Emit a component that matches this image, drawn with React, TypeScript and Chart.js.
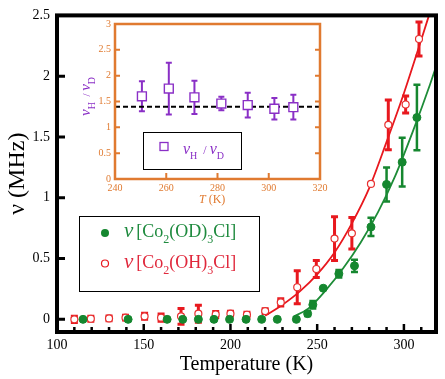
import React, { useEffect, useRef } from "react";
import { Chart, registerables } from "chart.js";

Chart.register(...registerables);

const FONT = "'Liberation Serif', 'Times New Roman', serif";

// ---- main chart data ----
const odT = [115, 141, 163.5, 172.5, 181.5, 190.5, 199.5, 209, 218, 227, 238, 244.5, 247.5, 253.5, 262.5, 271.5, 281, 290, 299, 307.5];
const odV = [0, 0, 0, 0, 0, 0, 0, 0, 0, 0, 0, 0.047, 0.12, 0.256, 0.375, 0.44, 0.76, 1.11, 1.293, 1.66];
const odErr = [0, 0, 0, 0, 0, 0, 0, 0, 0, 0, 0, 0.02, 0.03, 0, 0.03, 0.05, 0.075, 0.14, 0.2, 0.27];

const ohT = [110, 119.5, 130, 139.5, 150.5, 160, 171.5, 181.5, 191.5, 200, 209.5, 220, 229, 238.5, 249.5, 260, 270, 281, 291, 301, 308.7];
const ohV = [0.0, 0.005, 0.008, 0.014, 0.025, 0.014, 0.025, 0.047, 0.04, 0.047, 0.038, 0.068, 0.14, 0.264, 0.414, 0.664, 0.708, 1.114, 1.6, 1.767, 2.306];
const ohErr = [0.025, 0.02, 0.02, 0.02, 0.025, 0.03, 0.065, 0.07, 0.025, 0.02, 0.02, 0.02, 0.03, 0.135, 0.07, 0.18, 0.13, 0, 0.205, 0.07, 0.14];

const odFitT = [236, 245, 255, 265, 275, 285, 295, 305, 315, 319];
const odFitV = [0.02, 0.09, 0.24, 0.42, 0.63, 0.88, 1.18, 1.54, 1.93, 2.1];
const ohFitT = [220, 230, 240, 250, 260, 270, 280, 290, 300, 310, 316];
const ohFitV = [0.03, 0.12, 0.23, 0.37, 0.55, 0.79, 1.08, 1.46, 1.86, 2.3, 2.57];

const mainXTicks = [100, 150, 200, 250, 300];
const mainXMinor = [110, 120, 130, 140, 160, 170, 180, 190, 210, 220, 230, 240, 260, 270, 280, 290, 310];
const mainYTicks = [0, 0.5, 1, 1.5, 2, 2.5];

// ---- inset data ----
const ratioT = [250.5, 261, 271, 281.5, 291.8, 302.2, 309.6];
const ratioV = [1.6, 1.75, 1.58, 1.46, 1.43, 1.36, 1.39];
const ratioErr = [0.29, 0.5, 0.32, 0.13, 0.24, 0.21, 0.24];
const ratioRef = 1.4;
const insetXTicks = [240, 260, 280, 300, 320];
const insetYTicks = [0, 0.5, 1, 1.5, 2, 2.5, 3];

const GREEN = "#15872F";
const RED = "#E8181E";
const PURPLE = "#8A2FC6";
const ORANGE = "#E07A30";

type Seg = { t: string; size: number; dy?: number; dx?: number; italic?: boolean };

function drawRich(ctx: CanvasRenderingContext2D, x: number, y: number, segs: Seg[], color: string) {
  let cx = x;
  ctx.fillStyle = color;
  ctx.textBaseline = "alphabetic";
  ctx.textAlign = "left";
  for (const s of segs) {
    ctx.font = `${s.italic ? "italic " : ""}${s.size}px ${FONT}`;
    cx += s.dx || 0;
    ctx.fillText(s.t, cx, y + (s.dy || 0));
    cx += ctx.measureText(s.t).width;
  }
  return cx;
}

const errorBarPlugin = {
  id: "errorBars",
  beforeDatasetsDraw(chart: any) {
    const ctx = chart.ctx;
    const xs = chart.scales.x;
    const ys = chart.scales.y;
    chart.data.datasets.forEach((ds: any) => {
      const errs = ds.errors;
      if (!errs) return;
      ctx.save();
      ctx.strokeStyle = ds.errorColor;
      ctx.lineWidth = ds.errorWidth;
      ds.data.forEach((p: any, j: number) => {
        const e = errs[j];
        if (!e) return;
        const px = xs.getPixelForValue(p.x);
        const y1 = ys.getPixelForValue(p.y + e);
        const y2 = ys.getPixelForValue(p.y - e);
        const c = ds.capHalf;
        ctx.beginPath();
        ctx.moveTo(px, y1);
        ctx.lineTo(px, y2);
        ctx.moveTo(px - c, y1);
        ctx.lineTo(px + c, y1);
        ctx.moveTo(px - c, y2);
        ctx.lineTo(px + c, y2);
        ctx.stroke();
      });
      ctx.restore();
    });
  },
};

const mainDecor = {
  id: "mainDecor",
  afterDraw(chart: any) {
    const ctx = chart.ctx as CanvasRenderingContext2D;
    const { left, right, top, bottom } = chart.chartArea;
    const xs = chart.scales.x;
    const ys = chart.scales.y;
    ctx.save();
    // ticks
    ctx.strokeStyle = "#000";
    ctx.lineWidth = 3;
    ctx.beginPath();
    mainYTicks.forEach((v) => {
      if (v === 2.5) return;
      const py = ys.getPixelForValue(v);
      ctx.moveTo(left, py);
      ctx.lineTo(left + 8, py);
    });
    ctx.stroke();
    ctx.lineWidth = 2.5;
    ctx.beginPath();
    mainXTicks.forEach((v) => {
      const px = xs.getPixelForValue(v);
      ctx.moveTo(px, bottom);
      ctx.lineTo(px, bottom - 8);
    });
    mainXMinor.forEach((v) => {
      const px = xs.getPixelForValue(v);
      ctx.moveTo(px, bottom);
      ctx.lineTo(px, bottom - 5);
    });
    ctx.stroke();
    // frame
    ctx.lineWidth = 4;
    ctx.strokeRect(left, top, right - left, bottom - top);

    // legend
    ctx.lineWidth = 1;
    ctx.strokeStyle = "#000";
    ctx.strokeRect(79.5, 216.5, 180, 75);
    ctx.fillStyle = GREEN;
    ctx.beginPath();
    ctx.arc(105, 233, 4, 0, Math.PI * 2);
    ctx.fill();
    ctx.strokeStyle = RED;
    ctx.fillStyle = "#fff";
    ctx.lineWidth = 1.2;
    ctx.beginPath();
    ctx.arc(105, 263.5, 3.5, 0, Math.PI * 2);
    ctx.fill();
    ctx.stroke();
    drawRich(ctx, 124, 237, [
      { t: "ν", size: 21, italic: true },
      { t: "[Co", size: 18, dx: 3 },
      { t: "2", size: 12, dy: 6 },
      { t: "(OD)", size: 18 },
      { t: "3", size: 12, dy: 6 },
      { t: "Cl]", size: 18 },
    ], "#1E8A3E");
    drawRich(ctx, 124, 268, [
      { t: "ν", size: 21, italic: true },
      { t: "[Co", size: 18, dx: 3 },
      { t: "2", size: 12, dy: 6 },
      { t: "(OH)", size: 18 },
      { t: "3", size: 12, dy: 6 },
      { t: "Cl]", size: 18 },
    ], "#E0283C");
    ctx.restore();
  },
};

const insetDecor = {
  id: "insetDecor",
  afterDraw(chart: any) {
    const ctx = chart.ctx as CanvasRenderingContext2D;
    const { left, right, top, bottom } = chart.chartArea;
    const xs = chart.scales.x;
    const ys = chart.scales.y;
    ctx.save();
    ctx.strokeStyle = ORANGE;
    ctx.lineWidth = 2;
    ctx.beginPath();
    insetYTicks.forEach((v) => {
      if (v === 0 || v === 3) return;
      const py = ys.getPixelForValue(v);
      ctx.moveTo(left, py);
      ctx.lineTo(left + 5, py);
      ctx.moveTo(right, py);
      ctx.lineTo(right - 5, py);
    });
    insetXTicks.forEach((v) => {
      if (v === 240 || v === 320) return;
      const px = xs.getPixelForValue(v);
      ctx.moveTo(px, bottom);
      ctx.lineTo(px, bottom - 6);
    });
    ctx.stroke();
    ctx.lineWidth = 2.5;
    ctx.strokeRect(left, top, right - left, bottom - top);

    // x title
    drawRich(ctx, 199, 203, [
      { t: "T", size: 12, italic: true },
      { t: " (K)", size: 12 },
    ], ORANGE);

    // y title (rotated)
    ctx.save();
    ctx.translate(90, 116);
    ctx.rotate(-Math.PI / 2);
    drawRich(ctx, 0, 0, [
      { t: "ν", size: 15, italic: true },
      { t: "H", size: 10, dy: 5 },
      { t: "  / ", size: 11 },
      { t: "ν", size: 15, italic: true },
      { t: "D", size: 10, dy: 5 },
    ], PURPLE);
    ctx.restore();

    // legend
    ctx.strokeStyle = "#000";
    ctx.lineWidth = 1;
    ctx.strokeRect(143.5, 132.5, 98, 37);
    ctx.strokeStyle = PURPLE;
    ctx.lineWidth = 1.3;
    ctx.strokeRect(160, 142.5, 8, 8);
    drawRich(ctx, 183, 153.5, [
      { t: "ν", size: 16, italic: true },
      { t: "H", size: 10, dy: 5 },
      { t: "  / ", size: 12 },
      { t: "ν", size: 16, italic: true },
      { t: "D", size: 10, dy: 5 },
    ], PURPLE);
    ctx.restore();
  },
};

export default function App() {
  const mainRef = useRef<HTMLCanvasElement>(null);
  const insetRef = useRef<HTMLCanvasElement>(null);

  useEffect(() => {
    const tickFont = { family: FONT, size: 14 };
    const main = new Chart(mainRef.current!, {
      type: "scatter",
      data: {
        datasets: [
          {
            label: "OD",
            data: odT.map((t, i) => ({ x: t, y: odV[i] })),
            pointRadius: 4,
            pointBackgroundColor: GREEN,
            pointBorderColor: GREEN,
            pointBorderWidth: 1,
            errors: odErr,
            errorColor: GREEN,
            errorWidth: 2.5,
            capHalf: 3.5,
            order: 0,
          } as any,
          {
            label: "OH",
            data: ohT.map((t, i) => ({ x: t, y: ohV[i] })),
            pointRadius: 3.5,
            pointBackgroundColor: "#fff",
            pointBorderColor: "#E83030",
            pointBorderWidth: 1.2,
            errors: ohErr,
            errorColor: RED,
            errorWidth: 3,
            capHalf: 3.5,
            order: 0,
          } as any,
          {
            label: "OD fit",
            data: odFitT.map((t, i) => ({ x: t, y: odFitV[i] })),
            showLine: true,
            pointRadius: 0,
            borderColor: "#1E8C38",
            borderWidth: 1.8,
            cubicInterpolationMode: "monotone",
            order: 1,
          } as any,
          {
            label: "OH fit",
            data: ohFitT.map((t, i) => ({ x: t, y: ohFitV[i] })),
            showLine: true,
            pointRadius: 0,
            borderColor: RED,
            borderWidth: 1.8,
            cubicInterpolationMode: "monotone",
            order: 1,
          } as any,
        ],
      },
      options: {
        animation: false,
        responsive: false,
        devicePixelRatio: 1,
        layout: { padding: { top: 13, right: 9, left: 0, bottom: 0 } },
        plugins: { legend: { display: false }, tooltip: { enabled: false } },
        scales: {
          x: {
            type: "linear",
            min: 100,
            max: 318.5,
            grid: { display: false, drawTicks: false },
            border: { display: false },
            ticks: {
              font: tickFont,
              color: "#000",
              padding: 5,
              maxRotation: 0,
              autoSkip: false,
              callback: (v: any) => String(v),
            },
            afterBuildTicks: (s: any) => {
              s.ticks = mainXTicks.map((v) => ({ value: v }));
            },
            afterFit: (s: any) => {
              s.height = 47;
            },
            title: {
              display: true,
              text: "Temperature (K)",
              color: "#000",
              font: { family: FONT, size: 20 },
              padding: { top: 0, bottom: 2 },
            },
          },
          y: {
            type: "linear",
            min: -0.104,
            max: 2.5,
            grid: { display: false, drawTicks: false },
            border: { display: false },
            ticks: {
              font: tickFont,
              color: "#000",
              padding: 7,
              autoSkip: false,
              callback: (v: any) => String(v),
            },
            afterBuildTicks: (s: any) => {
              s.ticks = mainYTicks.map((v) => ({ value: v }));
            },
            afterFit: (s: any) => {
              s.width = 57;
            },
            title: {
              display: true,
              text: "ν (MHz)",
              color: "#000",
              font: { family: FONT, size: 24 },
              padding: { top: 3, bottom: 0 },
            },
          },
        },
      } as any,
      plugins: [errorBarPlugin, mainDecor],
    });

    const insetFont = { family: FONT, size: 10 };
    const inset = new Chart(insetRef.current!, {
      type: "scatter",
      data: {
        datasets: [
          {
            label: "ratio",
            data: ratioT.map((t, i) => ({ x: t, y: ratioV[i] })),
            pointStyle: "rect",
            pointRadius: 6.3,
            pointBackgroundColor: "#fff",
            pointBorderColor: PURPLE,
            pointBorderWidth: 1.4,
            errors: ratioErr,
            errorColor: PURPLE,
            errorWidth: 2,
            capHalf: 3,
            order: 0,
          } as any,
          {
            label: "ref",
            data: [
              { x: insetXTicks[0], y: ratioRef },
              { x: insetXTicks[insetXTicks.length - 1], y: ratioRef },
            ],
            showLine: true,
            pointRadius: 0,
            borderColor: "#000",
            borderWidth: 2,
            borderDash: [5, 3],
            order: 1,
          } as any,
        ],
      },
      options: {
        animation: false,
        responsive: false,
        devicePixelRatio: 1,
        layout: { padding: { top: 24, right: 125, left: 0, bottom: 0 } },
        plugins: { legend: { display: false }, tooltip: { enabled: false } },
        scales: {
          x: {
            type: "linear",
            min: 240,
            max: 320,
            grid: { display: false, drawTicks: false },
            border: { display: false },
            ticks: {
              font: insetFont,
              color: ORANGE,
              padding: 3,
              maxRotation: 0,
              autoSkip: false,
              callback: (v: any) => String(v),
            },
            afterBuildTicks: (s: any) => {
              s.ticks = insetXTicks.map((v) => ({ value: v }));
            },
            afterFit: (s: any) => {
              s.height = 200;
            },
          },
          y: {
            type: "linear",
            min: 0,
            max: 3,
            grid: { display: false, drawTicks: false },
            border: { display: false },
            ticks: {
              font: insetFont,
              color: ORANGE,
              padding: 4,
              autoSkip: false,
              callback: (v: any) => String(v),
            },
            afterBuildTicks: (s: any) => {
              s.ticks = insetYTicks.map((v) => ({ value: v }));
            },
            afterFit: (s: any) => {
              s.width = 115;
            },
          },
        },
      } as any,
      plugins: [errorBarPlugin, insetDecor],
    });

    return () => {
      main.destroy();
      inset.destroy();
    };
  }, []);

  return (
    <div style={{ position: "fixed", left: 0, top: 0, width: 445, height: 379, background: "#fff" }}>
      <canvas ref={mainRef} width={445} height={379} style={{ position: "absolute", left: 0, top: 0 }} />
      <canvas ref={insetRef} width={445} height={379} style={{ position: "absolute", left: 0, top: 0 }} />
    </div>
  );
}
